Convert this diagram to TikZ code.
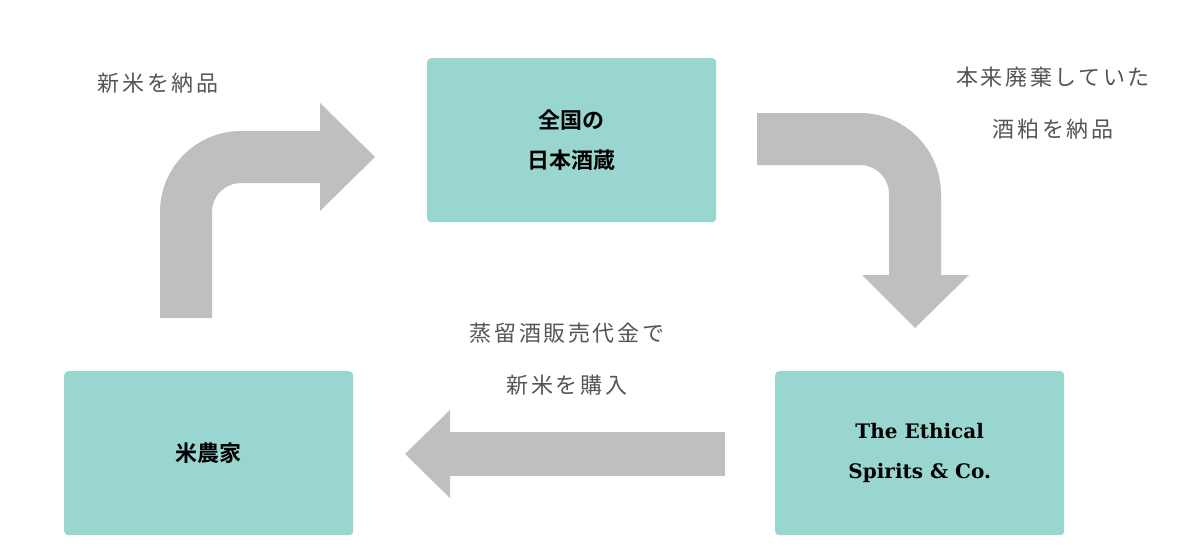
\documentclass[tikz,border=0pt]{standalone}
\usepackage{fontspec}
\newfontfamily\cjk{Noto Sans CJK JP}[LetterSpace=12]
\newfontfamily\cjkb{Noto Sans CJK JP Bold}
\newfontfamily\serifb{DejaVu Serif Bold}
\begin{document}
\begin{tikzpicture}[x=1pt,y=-1pt,
  box/.style={fill=boxc,draw=none,rounded corners=4pt,minimum width=289pt,minimum height=164pt,anchor=north west,align=center,font=\cjkb\fontsize{22}{40}\selectfont},
  lab/.style={text=labc,font=\cjk\fontsize{22}{52}\selectfont,align=center},
  shaft/.style={draw=arrc,line width=52pt,rounded corners=55pt}]
\definecolor{boxc}{HTML}{98D6CF}
\definecolor{arrc}{HTML}{BFBFBF}
\definecolor{labc}{HTML}{555555}
\useasboundingbox (0,0) rectangle (1199,554);
\fill[white] (0,0) rectangle (1199,554);
\node[box] (sake) at (427,58) {全国の\\日本酒蔵};
\node[box] (farm) at (64,371) {米農家};
\node[box,font=\serifb\fontsize{20}{40}\selectfont] (ethic) at (775,371) {The Ethical\\Spirits \& Co.};
% left arrow
\coordinate (a1) at (186,318);
\coordinate (a2) at (322,157);
\draw[shaft] (a1) -- (186,157) -- (a2);
\fill[arrc] (320,103) -- (375,157) -- (320,211) -- cycle;
% right arrow
\coordinate (b1) at (757,139);
\coordinate (b2) at (915,277);
\draw[shaft] (b1) -- (915,139) -- (b2);
\fill[arrc] (862,275) -- (915,328) -- (969,275) -- cycle;
% bottom arrow
\coordinate (c1) at (725,454);
\coordinate (c2) at (448,454);
\draw[draw=arrc,line width=44pt] (c1) -- (c2);
\fill[arrc] (450,410) -- (405,454) -- (450,498) -- cycle;
\node[lab] (l1) at (158,83) {新米を納品};
\node[lab] (l2) at (1053,103) {本来廃棄していた\\酒粕を納品};
\node[lab] (l3) at (567,359) {蒸留酒販売代金で\\新米を購入};
\end{tikzpicture}
\end{document}
